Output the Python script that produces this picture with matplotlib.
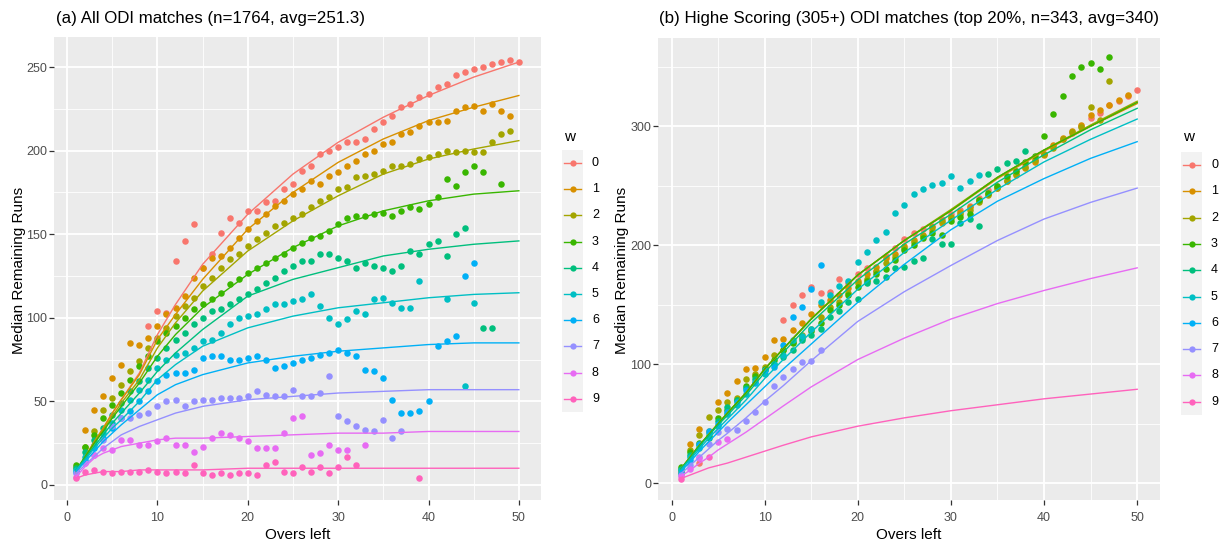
import matplotlib
matplotlib.use('Agg')
import matplotlib.pyplot as plt
from matplotlib.patches import Rectangle
from matplotlib.lines import Line2D

plt.rcParams['font.family'] = ['Liberation Sans', 'DejaVu Sans']

# ---- data -------------------------------------------------------------
OVERS = list(range(1, 51))
WICKETS = ['0', '1', '2', '3', '4', '5', '6', '7', '8', '9']
COLORS = ['#F8766D', '#D89000', '#A3A500', '#39B600', '#00BF7D',
          '#00BFC4', '#00B0F6', '#9590FF', '#E76BF3', '#FF62BC']
N = None

# (a) all ODI matches: median remaining runs per overs left, one list per w
a_w0 = [N, N, N, N, N, N, N, N, 95, 104,
        103, 134, 146, 156, 130, 138, 151, 160, 157, 164,
        164, 169, 170, 177, 180, 188, 191, 198, 200, 202,
        205, 205, 207, 213, 217, 221, 226, 228, 232, 234,
        238, 240, 245, 247, 249, 250, 252, 253, 254, 253]
a_w1 = [N, 33, 45, 53, 64, 72, 85, 84, 88, 95,
        102, 106, 113, 124, 130, 136, 137, 142, 148, 153,
        158, 162, 167, 170, 174, 177, 182, 180, 185, 187,
        191, 194, 198, 200, 204, 205, 210, 211, 215, 217,
        217, 218, 224, 226, 227, 224, 228, 224, 221, N]
a_w2 = [11, 23, 32, 45, 52, 60, 68, 74, 82, 88,
        94, 101, 107, 112, 119, 124, 130, 135, 138, 143,
        147, 151, 155, 157, 160, 162, 166, 170, 172, 177,
        178, 184, 185, 186, 188, 191, 191, 192, 195, 196,
        198, 200, 199, 200, 199, 199, 205, 210, 212, N]
a_w3 = [12, 23, 30, 40, 48, 55, 63, 71, 77, 86,
        91, 95, 100, 105, 108, 111, 115, 120, 123, 127,
        130, 133, 136, 138, 142, 145, 148, 149, 152, 156,
        160, 161, 161, 162, 163, 161, 164, 166, 165, 168,
        172, 183, 179, 187, 191, 187, N, 180, N, N]
a_w4 = [10, 20, 27, 34, 42, 49, 56, 62, 70, 76,
        82, 87, 91, 96, 100, 104, 105, 108, 111, 114,
        117, 121, 124, 128, 131, 134, 134, 138, 138, 136,
        134, 130, 133, 131, 130, 128, 131, 140, 138, 144,
        146, 137, 150, 154, N, 94, 94, N, N, N]
a_w5 = [9, 17, 24, 31, 37, 45, 51, 57, 63, 70,
        75, 78, 79, 82, 86, 87, 91, 96, 100, 101,
        102, 105, 108, 108, 110, 111, 114, 107, 100, 96,
        99, 104, 102, 111, 112, 109, 106, 106, 122, N,
        N, 111, N, 59, 109, N, N, N, N, N]
a_w6 = [8, 15, 22, 28, 34, 40, 44, 50, 56, 62,
        66, 67, 67, 69, 76, 77, 77, 75, 75, 76,
        77, 75, 70, 71, 73, 75, 76, 78, 79, 81,
        79, 77, 69, 68, 64, 51, 43, 43, 44, 50,
        83, 86, 89, 125, 133, N, N, N, N, N]
a_w7 = [7, 13, 18, 27, 35, 40, 40, 42, 43, 47,
        50, 51, 47, 50, 51, 51, 52, 52, 52, 53,
        56, 54, 53, 53, 57, 53, 53, 55, 65, 41,
        38, 35, 33, 32, 39, 28, 32, N, N, N,
        N, N, N, N, N, N, N, N, N, N]
a_w8 = [5, 13, 18, 22, 21, 27, 27, 24, 24, 26,
        28, 24, 24, 20, 23, 28, 31, 30, 28, 26,
        22, 22, 22, 31, 40, 41, 18, 19, 24, 21,
        21, N, 24, N, N, N, N, N, N, N,
        N, N, N, N, N, N, N, N, N, N]
a_w9 = [4, 8, 9, 8, 7, 8, 8, 8, 9, 8,
        7, 8, 7, 12, 7, 6, 7, 6, 7, 7,
        6, 12, 14, 8, 7, 11, 8, 11, 7, 11,
        17, 12, N, N, N, N, N, N, 4, N,
        N, N, N, N, N, N, N, N, N, N]

# (b) high scoring matches
b_w0 = [N, N, 17, N, N, N, N, N, N, N,
        N, 137, 150, 158, 165, 160, 161, 172, 168, 176,
        181, 178, 191, 198, 205, 210, 214, 216, 222, 226,
        230, 233, 240, 246, 250, 256, 262, 268, 272, 277,
        283, 289, 294, 300, 307, 311, 318, 321, 325, 330]
b_w1 = [10, 33, 46, 44, 68, 76, 86, 96, 97, 106,
        120, 121, 129, 135, 142, 150, 154, 158, 164, 170,
        176, 182, 189, 193, 199, 204, 209, 213, 219, 223,
        228, 232, 238, 243, 248, 254, 259, 265, 270, 276,
        284, 290, 296, 301, 309, 314, 318, 322, 326, N]
b_w2 = [9, 28, 41, 56, 62, 68, 72, 88, 92, 98,
        108, 112, 119, 125, 130, 140, 148, 152, 160, 168,
        172, 178, 185, 190, 198, 203, 208, 215, 220, 224,
        226, 230, 236, 242, 248, 254, 260, 266, 272, 277,
        282, 289, 295, 299, 316, 305, 338, N, N, N]
b_w3 = [14, 26, 34, 40, 55, 62, 70, 82, 90, 96,
        104, 112, 118, 122, 128, 135, 146, 150, 158, 165,
        170, 176, 180, 188, 196, 200, 206, 210, 209, 220,
        224, 226, 238, 244, 250, 258, 262, 270, 275, 292,
        310, 325, 342, 350, 353, 348, 358, N, N, N]
b_w4 = [12, 24, 32, 38, 52, 64, 70, 80, 88, 95,
        100, 106, 112, 120, 125, 130, 140, 145, 152, 155,
        168, 170, 173, 181, 182, 187, 189, 205, 201, 201,
        219, 222, 216, 260, 264, 269, 271, 279, N, N,
        N, N, N, N, N, N, N, N, N, N]
b_w5 = [11, 22, 30, 42, 48, 58, 66, 75, 85, 92,
        100, 108, 120, 124, 130, 152, 158, 166, 170, 186,
        194, 204, 211, 227, 234, 243, 247, 251, 252, 258,
        248, 254, 259, N, N, N, N, N, N, N,
        N, N, N, N, N, N, N, N, N, N]
b_w6 = [9, 20, 33, 44, 50, 60, 68, 78, 84, 95,
        98, 116, 140, 148, 163, 183, N, N, N, N] + [N] * 30
b_w7 = [7, 15, 22, 33, 43, 46, 45, 52, 60, 68,
        82, 89, 96, 102, 103, 112, N, N, N, N] + [N] * 30
b_w8 = [6, 12, 21, N, 35, 37, N, N, N, N] + [N] * 40
b_w9 = [4, N, N, 22, N, N, N, N, N, N] + [N] * 40

# fitted curves, read at a few overs
FIT_OVERS = [1, 2, 3, 4, 5, 6, 8, 10, 12, 15, 20, 25, 30, 35, 40, 45, 50]
a_fit = [
    [7, 16, 25, 34, 43, 51, 67, 90, 108, 132, 162, 186, 205, 220, 233, 244, 253],
    [8, 17, 26, 34, 43, 51, 66, 87, 102, 123, 153, 175, 193, 207, 218, 226, 233],
    [8, 16, 25, 33, 41, 49, 63, 82, 97, 116, 140, 158, 173, 186, 195, 201, 206],
    [9, 17, 25, 32, 40, 47, 61, 77, 90, 106, 126, 142, 155, 164, 170, 174, 176],
    [9, 16, 23, 30, 37, 43, 55, 68, 79, 93, 113, 123, 130, 137, 141, 144, 146],
    [9, 15, 22, 28, 34, 39, 50, 63, 72, 83, 94, 101, 106, 109, 112, 114, 115],
    [8, 14, 20, 26, 31, 36, 45, 54, 60, 66, 73, 77, 80, 82, 84, 85, 85],
    [7, 12, 17, 22, 26, 30, 35, 39, 43, 47, 51, 53, 55, 56, 57, 57, 57],
    [5, 11, 16, 19, 21, 23, 25, 27, 28, 28, 29, 30, 31, 31, 32, 32, 32],
    [4, 6, 7, 8, 8, 8, 9, 9, 9, 9, 10, 10, 10, 10, 10, 10, 10],
]
b_fit = [
    [12, 22, 32, 41, 50, 59, 76, 96, 113, 138, 175, 204, 229, 257, 280, 300, 320],
    [12, 22, 32, 41, 50, 59, 76, 96, 113, 138, 175, 204, 229, 256, 279, 300, 319],
    [12, 22, 32, 41, 50, 59, 76, 96, 113, 138, 175, 204, 230, 257, 280, 301, 321],
    [12, 22, 32, 41, 50, 59, 76, 96, 113, 138, 175, 204, 229, 257, 280, 300, 320],
    [12, 21, 31, 40, 49, 57, 74, 93, 110, 135, 171, 201, 226, 253, 276, 297, 315],
    [11, 20, 29, 38, 46, 54, 70, 88, 104, 127, 163, 194, 221, 247, 270, 289, 306],
    [10, 18, 27, 35, 43, 51, 66, 81, 96, 117, 152, 184, 213, 237, 256, 273, 287],
    [8, 15, 22, 29, 36, 42, 55, 69, 82, 103, 136, 161, 183, 204, 222, 236, 248],
    [6, 11, 17, 22, 28, 33, 43, 54, 65, 81, 104, 122, 138, 151, 162, 172, 181],
    [4, 7, 10, 13, 15, 17, 22, 27, 32, 39, 48, 55, 61, 66, 71, 75, 79],
]
a_points = [a_w0, a_w1, a_w2, a_w3, a_w4, a_w5, a_w6, a_w7, a_w8, a_w9]
b_points = [b_w0, b_w1, b_w2, b_w3, b_w4, b_w5, b_w6, b_w7, b_w8, b_w9]

TITLE_A = '(a) All ODI matches (n=1764, avg=251.3)'
TITLE_B = '(b) Highe Scoring (305+) ODI matches (top 20%, n=343, avg=340)'

W, H = 1227, 542
fig = plt.figure(figsize=(W / 100, H / 100), dpi=100)


def px_axes(left, top, right, bottom):
    return fig.add_axes([left / W, 1 - bottom / H, (right - left) / W, (bottom - top) / H])


def style_panel(ax, ylim, yticks, yminor):
    ax.set_facecolor('#EBEBEB')
    ax.set_xlim(-1.45, 52.45)
    ax.set_ylim(*ylim)
    ax.set_xticks([0, 10, 20, 30, 40, 50])
    ax.set_xticks([5, 15, 25, 35, 45], minor=True)
    ax.set_yticks(yticks)
    ax.set_yticks(yminor, minor=True)
    ax.grid(which='major', color='white', lw=1.3, zorder=0)
    ax.grid(which='minor', color='white', lw=0.6, zorder=0)
    ax.set_axisbelow(True)
    for s in ax.spines.values():
        s.set_visible(False)
    ax.tick_params(which='major', length=3.5, width=0.9, color='#333333',
                   labelcolor='#4D4D4D', labelsize=9)
    ax.tick_params(axis='x', pad=5)
    ax.tick_params(axis='y', pad=1.5)
    ax.tick_params(which='minor', length=0)


def draw(ax, points, fits):
    for vals, c in zip(points, COLORS):
        xs = [o for o, v in zip(OVERS, vals) if v is not None]
        ys = [v for v in vals if v is not None]
        ax.scatter(xs, ys, s=22, color=c, linewidths=0, zorder=2)
    for fit, c in zip(fits, COLORS):
        ax.plot(FIT_OVERS, fit, color=c, lw=1.0, zorder=3)


ax_a = px_axes(54, 37, 541, 500)
style_panel(ax_a, (-9, 268), [0, 50, 100, 150, 200, 250], [25, 75, 125, 175, 225])
draw(ax_a, a_points, a_fit)

ax_b = px_axes(658, 37.5, 1160, 500)
style_panel(ax_b, (-14, 374.5), [0, 100, 200, 300], [50, 150, 250, 350])
draw(ax_b, b_points, b_fit)

# overlay in pixel coordinates for titles, axis titles and legends
ov = fig.add_axes([0, 0, 1, 1], zorder=5)
ov.set_xlim(0, W)
ov.set_ylim(H, 0)
ov.axis('off')
ov.patch.set_alpha(0)

ov.text(56, 19, TITLE_A, fontsize=12.2, ha='left', va='center')
ov.text(659, 19, TITLE_B, fontsize=12.2, ha='left', va='center')
for cx in (297.5, 909):
    ov.text(cx, 535, 'Overs left', fontsize=11, ha='center', va='center')
for cx in (19, 622):
    ov.text(cx, 270, 'Median Remaining Runs', fontsize=11, ha='center',
            va='center', rotation=90)


def legend(x0, y0, step):
    ov.text(x0 + 2, 137, 'w', fontsize=11, ha='left', va='center')
    ov.add_patch(Rectangle((x0, y0 - step / 2), 21, step * 10,
                           facecolor='#F2F2F2', edgecolor='none'))
    for i, (lab, c) in enumerate(zip(WICKETS, COLORS)):
        y = y0 + i * step
        ov.add_line(Line2D([x0 + 2, x0 + 19], [y, y], color=c, lw=1.0))
        ov.plot([x0 + 10.5], [y], 'o', ms=4.5, color=c, mec='none')
        ov.text(x0 + 30, y, lab, fontsize=9, ha='left', va='center', color='black')


legend(562, 163, 26.2)
legend(1181, 165, 26.3)

fig.savefig('out.png', dpi=100, facecolor='white')
